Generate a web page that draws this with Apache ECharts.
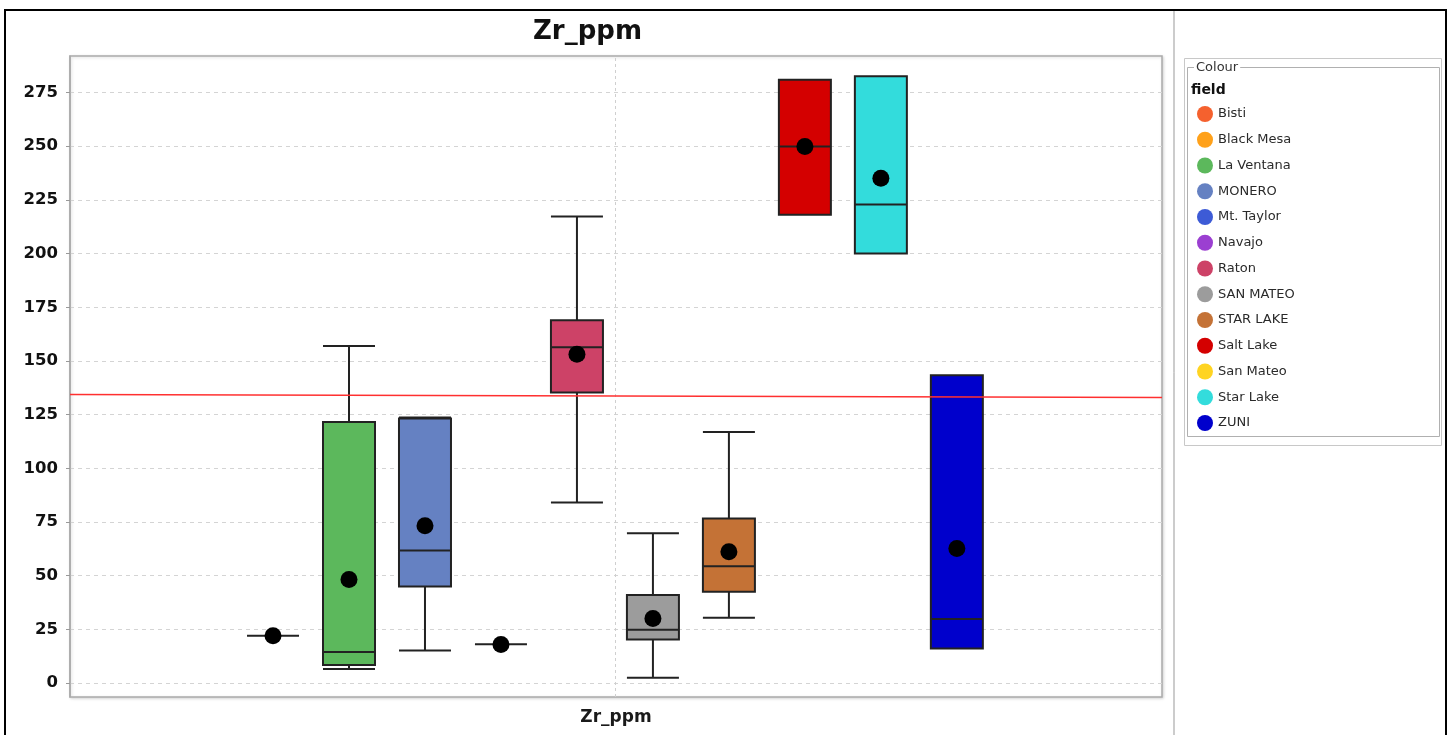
<!DOCTYPE html>
<html>
<head>
<meta charset="utf-8">
<title>Zr_ppm</title>
<script src="https://cdn.jsdelivr.net/npm/echarts@6.0.0/dist/echarts.min.js"></script>
<style>
  html, body { margin: 0; padding: 0; background: #fff; }
  #chart { width: 1451px; height: 735px; }
</style>
</head>
<body>
<div id="chart"></div>
<script>
// every field in the colour legend
const fields = ["Bisti", "Black Mesa", "La Ventana", "MONERO", "Mt. Taylor", "Navajo", "Raton",
  "SAN MATEO", "STAR LAKE", "Salt Lake", "San Mateo", "Star Lake", "ZUNI"];
const fieldColors = ["#f5612e", "#ffa11a", "#5cb85c", "#6581c2", "#3d5bd6", "#9b3fd1", "#cd4267",
  "#9c9c9c", "#c47236", "#d40000", "#ffd422", "#33dcdc", "#0000cc"];

// fields that have a box, in plot order
const boxFields = ["Bisti", "La Ventana", "MONERO", "Mt. Taylor", "Raton", "SAN MATEO",
  "STAR LAKE", "Salt Lake", "Star Lake", "ZUNI"];
const boxMin    = [22, 6.5, 15.2, 18.1, 84.1, 2.5, 30.4, 218.1, 200, 16.1];
const boxQ1     = [22, 8.4, 45, 18.1, 135.3, 20.3, 42.5, 218.1, 200, 16.1];
const boxMedian = [22, 14.4, 61.7, 18.1, 156.4, 24.8, 54.4, 249.9, 222.8, 29.8];
const boxQ3     = [22, 121.6, 123.2, 18.1, 168.9, 41, 76.6, 280.9, 282.6, 143.3];
const boxMax    = [22, 157, 123.6, 18.1, 217.3, 69.7, 116.9, 280.9, 282.6, 143.3];
const boxMean   = [22, 48.2, 73.2, 18, 153.1, 30.1, 61.1, 249.9, 235.1, 62.7];

// reference line (value at left and right edge of the plot)
const refLine = [134.4, 133.0];

const yTicks = [0, 25, 50, 75, 100, 125, 150, 175, 200, 225, 250, 275];

const xMin = -2.672, xMax = 11.70;
const font = "DejaVu Sans";

const colorOf = (name) => fieldColors[fields.indexOf(name)];

const boxData = boxFields.map((name, i) => ({
  name: name,
  value: [i, boxMin[i], boxQ1[i], boxMedian[i], boxQ3[i], boxMax[i]],
  itemStyle: { color: colorOf(name) }
}));

const legendSeries = fields.map((name, i) => ({
  name: name,
  type: "scatter",
  data: [],
  itemStyle: { color: fieldColors[i], opacity: 1 }
}));

const chart = echarts.init(document.getElementById("chart"));
chart.setOption({
  animation: false,
  title: {
    text: "Zr_ppm",
    left: 528,
    top: 14,
    textStyle: { fontFamily: font, fontSize: 26, fontWeight: "bold", color: "#111" }
  },
  legend: {
    data: fields,
    orient: "vertical",
    left: 1197,
    top: 106,
    padding: 0,
    icon: "circle",
    itemWidth: 16,
    itemHeight: 16,
    itemGap: 9.75,
    selectedMode: false,
    itemStyle: { opacity: 1 },
    textStyle: { fontFamily: font, fontSize: 13, color: "#2a2a2a", lineHeight: 16 }
  },
  grid: {
    left: 70,
    right: 289,
    top: 56,
    bottom: 38,
    show: true,
    backgroundColor: "#fff",
    borderColor: "#aaa",
    borderWidth: 1.5,
    shadowColor: "rgba(0,0,0,0.15)",
    shadowBlur: 3,
    shadowOffsetX: 1,
    shadowOffsetY: 1
  },
  xAxis: {
    type: "value",
    min: xMin,
    max: xMax,
    name: "Zr_ppm",
    nameLocation: "middle",
    nameGap: 12,
    nameTextStyle: { fontFamily: font, fontSize: 17, fontWeight: "bold", color: "#1a1a1a" },
    axisLine: { show: false, onZero: false },
    axisTick: { show: false },
    axisLabel: { show: false },
    splitLine: { show: false }
  },
  yAxis: {
    type: "value",
    min: -6.5,
    max: 292,
    axisLine: { show: true, onZero: false, lineStyle: { color: "#aaa", width: 1.5 } },
    axisTick: { show: true, length: 4, customValues: yTicks, lineStyle: { color: "#999" } },
    axisLabel: {
      customValues: yTicks,
      margin: 12,
      fontFamily: font,
      fontSize: 16.5,
      fontWeight: "bold",
      color: "#111"
    },
    splitLine: { show: true, lineStyle: { color: "#d4d4d4", type: [4, 4], width: 1 } }
  },
  graphic: [
    // outer frame and panel divider
    { type: "rect", shape: { x: 5, y: 10, width: 1441, height: 740 },
      style: { fill: "none", stroke: "#000", lineWidth: 2 }, silent: true, z: 100 },
    { type: "line", shape: { x1: 1174, y1: 10, x2: 1174, y2: 735 },
      style: { stroke: "#999", lineWidth: 1 }, silent: true },
    // legend boxes
    { type: "rect", shape: { x: 1184.5, y: 58.5, width: 257, height: 387 },
      style: { fill: "none", stroke: "#c8c8c8", lineWidth: 1 }, silent: true },
    { type: "rect", shape: { x: 1187.5, y: 67.5, width: 252, height: 369 },
      style: { fill: "none", stroke: "#b0b0b0", lineWidth: 1 }, silent: true },
    { type: "text", x: 1194, y: 68,
      style: { text: "Colour", fontFamily: font, fontSize: 13, fill: "#333",
        verticalAlign: "middle", backgroundColor: "#fff", padding: [0, 2] }, silent: true },
    { type: "text", x: 1191, y: 90,
      style: { text: "field", fontFamily: font, fontSize: 14, fontWeight: "bold", fill: "#111",
        verticalAlign: "middle" }, silent: true }
  ],
  series: [
    {
      name: "Zr_ppm",
      type: "boxplot",
      layout: "horizontal",
      boxWidth: [52, 52],
      data: boxData,
      itemStyle: { borderColor: "#222", borderWidth: 2 },
      emphasis: { disabled: true },
      markLine: {
        silent: true,
        symbol: "none",
        label: { show: false },
        lineStyle: { color: "#cfcfcf", type: [3, 3], width: 1 },
        data: [{ xAxis: 4.5 }]
      }
    },
    {
      name: "mean",
      type: "scatter",
      symbolSize: 17,
      itemStyle: { color: "#000", opacity: 1 },
      data: boxMean.map((v, i) => [i, v]),
      z: 4,
      markLine: {
        silent: true,
        symbol: "none",
        label: { show: false },
        lineStyle: { color: "#ff3030", type: "solid", width: 1.5 },
        data: [[{ coord: [xMin, refLine[0]] }, { coord: [xMax, refLine[1]] }]]
      }
    }
  ].concat(legendSeries)
});
</script>
</body>
</html>
